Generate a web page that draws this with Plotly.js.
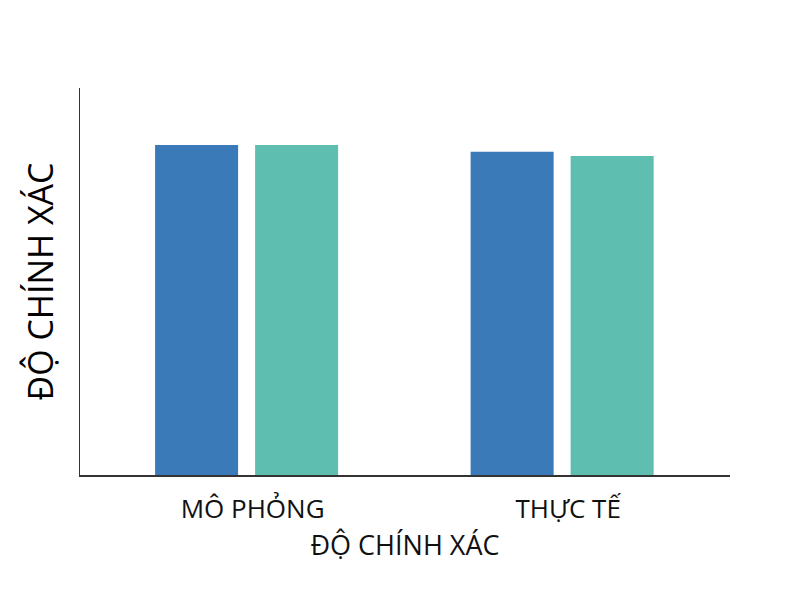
<!DOCTYPE html>
<html>
<head>
<meta charset="utf-8">
<script src="https://cdn.plot.ly/plotly-3.0.1.min.js"></script>
<style>
  html, body { margin: 0; padding: 0; background: #fff; }
  #chart { width: 800px; height: 600px; }
</style>
</head>
<body>
<div id="chart"></div>
<script>
// categories and the two series (axis 0-100)
var categories = ['MÔ PHỎNG', 'THỰC TẾ'];
var seriesA = [85.3, 83.5];
var seriesB = [85.3, 82.4];

var traceA = {
  x: categories,
  y: seriesA,
  type: 'bar',
  name: 'A',
  marker: {color: '#3a7ab9'},
  hoverinfo: 'none'
};

var traceB = {
  x: categories,
  y: seriesB,
  type: 'bar',
  name: 'B',
  marker: {color: '#5ebfb1'},
  hoverinfo: 'none'
};

var layout = {
  width: 800,
  height: 600,
  margin: {l: 80, r: 70, t: 88, b: 125},
  paper_bgcolor: '#fff',
  plot_bgcolor: '#fff',
  showlegend: false,
  barmode: 'group',
  bargap: 0.366,
  bargroupgap: 0.17,
  font: {family: 'Open Sans, sans-serif', color: '#111'},
  xaxis: {
    type: 'category',
    range: [-0.528, 1.532],
    showline: true,
    linecolor: '#333',
    linewidth: 1.5,
    ticks: 'outside',
    ticklen: 10,
    tickcolor: 'rgba(0,0,0,0)',
    ticklabelshift: 6,
    showgrid: false,
    zeroline: false,
    tickfont: {size: 26, color: '#111'},
    title: {text: 'ĐỘ CHÍNH XÁC', font: {size: 27, color: '#111'}, standoff: 11}
  },
  yaxis: {
    range: [0, 100],
    showline: true,
    linecolor: '#333',
    linewidth: 1.5,
    ticks: '',
    showticklabels: false,
    showgrid: false,
    zeroline: false,
    title: {text: 'ĐỘ CHÍNH XÁC', font: {size: 34, color: '#000'}, standoff: 14}
  }
};

Plotly.newPlot('chart', [traceA, traceB], layout, {displayModeBar: false, staticPlot: true});
</script>
</body>
</html>
